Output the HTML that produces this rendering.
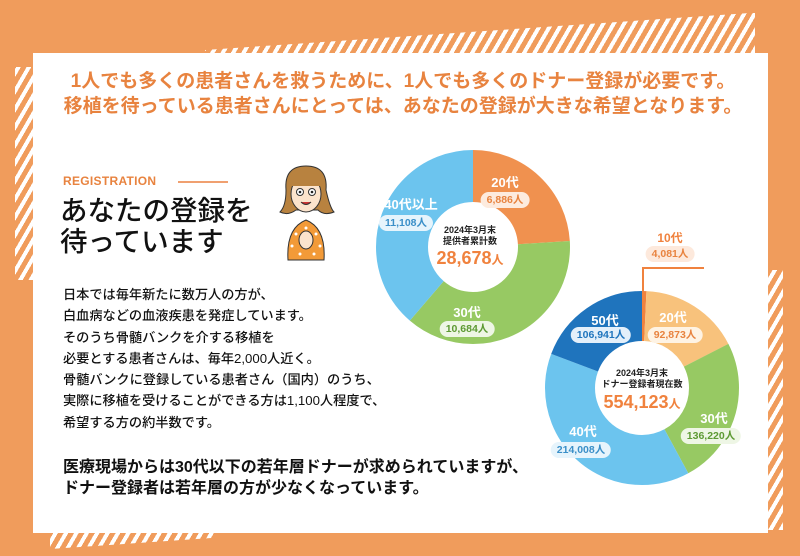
<!DOCTYPE html>
<html><head><meta charset="utf-8"><style>
*{margin:0;padding:0;box-sizing:border-box}
body{width:800px;height:556px;background:#f09c5c;position:relative;overflow:hidden;font-family:"Liberation Sans","Noto Sans CJK JP",sans-serif}
.hatch{position:absolute;background:repeating-linear-gradient(-60deg,#fff 0 4px,transparent 4px 9px)}
.panel{position:absolute;left:33px;top:53px;width:735px;height:480px;background:#fff}
.t{position:absolute;white-space:nowrap;font-weight:bold}
.c{transform:translateX(-50%);text-align:center}
.pill{position:absolute;transform:translateX(-50%);font-size:10.5px;font-weight:bold;padding:1px 6px;border-radius:9px;white-space:nowrap;line-height:14px}
.body{position:absolute;left:63px;font-size:13.2px;color:#111;line-height:21.3px;font-weight:500}
</style></head><body>
<div class="hatch" style="left:205px;top:13px;width:550px;height:40px;clip-path:polygon(0 37px,545px 0,550px 0,550px 40px,0 40px)"></div>
<div class="hatch" style="left:15px;top:67px;width:18px;height:213px"></div>
<div class="hatch" style="left:768px;top:270px;width:15px;height:260px"></div>
<div class="hatch" style="left:50px;top:533px;width:165px;height:16px;clip-path:polygon(0 0,100% 0,100% 30%,0 100%)"></div>
<div class="panel"></div>

<div class="t c" style="left:403px;top:69px;font-size:19px;color:#e8833f;line-height:25px">1人でも多くの患者さんを救うために、1人でも多くのドナー登録が必要です。<br>移植を待っている患者さんにとっては、あなたの登録が大きな希望となります。</div>

<div class="t" style="left:63px;top:174px;font-size:12px;color:#e8833f;letter-spacing:0.3px">REGISTRATION</div>
<div style="position:absolute;left:178px;top:181px;width:50px;height:2px;background:#f0a070"></div>
<div class="t" style="left:60px;top:195px;font-size:27.5px;color:#111;line-height:31px;font-weight:500">あなたの登録を<br>待っています</div>

<svg style="position:absolute;left:278px;top:162px" width="60" height="100" viewBox="0 0 60 100">
<path d="M8 28 Q6 4 28 4 Q50 4 48 28 Q52 46 56 50 Q46 54 40 48 L18 48 Q10 54 2 50 Q8 44 8 28Z" fill="#b8823f" stroke="#333" stroke-width="1"/>
<ellipse cx="28" cy="32" rx="15" ry="18" fill="#fbe3cc" stroke="#333" stroke-width="1"/>
<path d="M12 24 Q14 10 28 10 Q42 10 44 24 L12 24Z" fill="#b8823f"/>
<circle cx="22" cy="30" r="3.5" fill="#fff" stroke="#333"/><circle cx="34" cy="30" r="3.5" fill="#fff" stroke="#333"/>
<circle cx="22" cy="30" r="1.3" fill="#222"/><circle cx="34" cy="30" r="1.3" fill="#222"/>
<path d="M23 40 Q28 45 33 40" fill="#c33" stroke="#333"/>
<path d="M10 98 Q8 66 28 58 Q48 66 46 98Z" fill="#f29a38" stroke="#333"/>
<g fill="#fff"><circle cx="18" cy="72" r="1.5"/><circle cx="38" cy="72" r="1.5"/><circle cx="14" cy="84" r="1.5"/><circle cx="42" cy="84" r="1.5"/><circle cx="22" cy="92" r="1.5"/><circle cx="36" cy="92" r="1.5"/><circle cx="28" cy="66" r="1.5"/></g>
<ellipse cx="28" cy="78" rx="7" ry="9" fill="#fbe3cc" stroke="#333"/>
</svg>

<div class="body" style="top:284px">日本では毎年新たに数万人の方が、<br>白血病などの血液疾患を発症しています。<br>そのうち骨髄バンクを介する移植を<br>必要とする患者さんは、毎年2,000人近く。<br>骨髄バンクに登録している患者さん（国内）のうち、<br>実際に移植を受けることができる方は1,100人程度で、<br>希望する方の約半数です。</div>
<div class="t" style="left:63px;top:457px;font-size:16px;line-height:21px;color:#111">医療現場からは30代以下の若年層ドナーが求められていますが、<br>ドナー登録者は若年層の方が少なくなっています。</div>

<svg style="position:absolute;left:0;top:0" width="800" height="556">
<g transform="translate(473,247) rotate(-90)" fill="none" stroke-width="52">
<circle r="71" stroke="#f0914f" stroke-dasharray="107.1 446.1"/>
<circle r="71" stroke="#97c963" stroke-dasharray="166.2 446.1" stroke-dashoffset="-107.1"/>
<circle r="71" stroke="#6cc4ee" stroke-dasharray="172.8 446.1" stroke-dashoffset="-273.3"/>
</g>
<g transform="translate(642,388) rotate(-90)" fill="none" stroke-width="50">
<circle r="72" stroke="#f0823e" stroke-dasharray="3.33 452.4"/>
<circle r="72" stroke="#f8c27c" stroke-dasharray="75.8 452.4" stroke-dashoffset="-3.33"/>
<circle r="72" stroke="#97c963" stroke-dasharray="111.2 452.4" stroke-dashoffset="-79.1"/>
<circle r="72" stroke="#6cc4ee" stroke-dasharray="174.7 452.4" stroke-dashoffset="-190.3"/>
<circle r="72" stroke="#1f74bd" stroke-dasharray="87.3 452.4" stroke-dashoffset="-365"/>
</g>
<polyline points="643,292 643,268 704,268" fill="none" stroke="#f0823e" stroke-width="2"/>
</svg>

<div class="t c" style="left:505px;top:172px;font-size:13px;color:#fff">20代</div>
<div class="pill" style="left:505px;top:192px;background:#fdebde;color:#e8833f">6,886人</div>
<div class="t c" style="left:411px;top:194px;font-size:13px;color:#fff">40代以上</div>
<div class="pill" style="left:406px;top:215px;background:#e6f4fc;color:#3a8fc8">11,108人</div>
<div class="t c" style="left:467px;top:302px;font-size:13px;color:#fff">30代</div>
<div class="pill" style="left:467px;top:321px;background:#eef6e5;color:#5d9a33">10,684人</div>
<div class="t c" style="left:470px;top:225px;font-size:9px;color:#222;line-height:11px">2024年3月末<br>提供者累計数</div>
<div class="t c" style="left:470px;top:248px;font-size:18px;color:#f0823e">28,678<span style="font-size:12px">人</span></div>

<div class="t c" style="left:670px;top:229px;font-size:12px;color:#f0823e">10代</div>
<div class="pill" style="left:670px;top:246px;background:#fde9dc;color:#e8833f">4,081人</div>
<div class="t c" style="left:605px;top:310px;font-size:13px;color:#fff">50代</div>
<div class="pill" style="left:601px;top:327px;background:#e3effa;color:#1f74bd">106,941人</div>
<div class="t c" style="left:673px;top:307px;font-size:13px;color:#fff">20代</div>
<div class="pill" style="left:675px;top:327px;background:#fef3e4;color:#e8833f">92,873人</div>
<div class="t c" style="left:714px;top:408px;font-size:13px;color:#fff">30代</div>
<div class="pill" style="left:711px;top:428px;background:#eef6e5;color:#5d9a33">136,220人</div>
<div class="t c" style="left:583px;top:421px;font-size:13px;color:#fff">40代</div>
<div class="pill" style="left:581px;top:442px;background:#e6f4fc;color:#3a8fc8">214,008人</div>
<div class="t c" style="left:642px;top:368px;font-size:9px;color:#222;line-height:11px">2024年3月末<br>ドナー登録者現在数</div>
<div class="t c" style="left:642px;top:392px;font-size:18px;color:#f0823e">554,123<span style="font-size:12px">人</span></div>
</body></html>
